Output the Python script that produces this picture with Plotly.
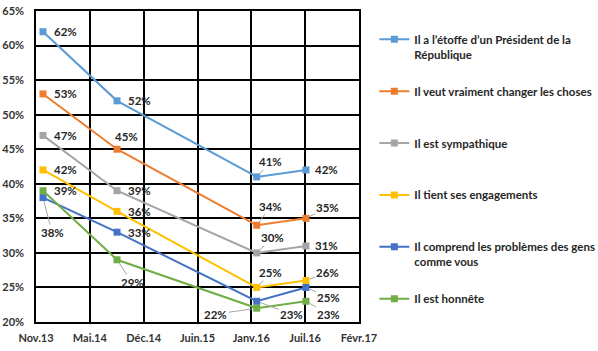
import plotly.graph_objects as go

# ---- data ----
dates = ["2013-11-27", "2014-08-29", "2016-01-30", "2016-07-31"]
series_names = [
    "Il a l\u2019étoffe d\u2019un Président de la<br>République",
    "Il veut vraiment changer les choses",
    "Il est sympathique",
    "Il tient ses engagements",
    "Il comprend les problèmes des gens<br>comme vous",
    "Il est honnête",
]
etoffe = [62, 52, 41, 42]
changer = [53, 45, 34, 35]
sympathique = [47, 39, 30, 31]
engagements = [42, 36, 25, 26]
comprend = [38, 33, 23, 25]
honnete = [39, 29, 22, 23]
series_values = [etoffe, changer, sympathique, engagements, comprend, honnete]

x_tick_vals = ["2013-11-01", "2014-05-20", "2014-12-06", "2015-06-24",
               "2016-01-10", "2016-07-28", "2017-02-13"]
x_tick_text = ["Nov.13", "Mai.14", "Déc.14", "Juin.15", "Janv.16", "Juil.16", "Févr.17"]
y_ticks = [20, 25, 30, 35, 40, 45, 50, 55, 60, 65]

# ---- styles ----
colors = ["#5B9BD5", "#ED7D31", "#A5A5A5", "#FFC000", "#4472C4", "#70AD47"]
FONT = "Lato"
# label offsets in pixels (ax, ay) and whether a leader line is drawn
label_offsets = [
    [(22, 0, False), (22, 0, False), (14, -15, True), (21, 0, False)],
    [(22, 0, False), (9, -13, False), (14, -19, True), (22, -11, True)],
    [(22, 0, False), (22, 0, False), (16, -15, True), (21, 0, False)],
    [(22, 0, False), (22, 0, False), (14, -15, True), (22, -8, True)],
    [(9, 35, True), (22, 0, False), (35, 13, True), (23, 10, True)],
    [(22, 0, False), (15, 23, True), (-41, 6, True), (23, 13, True)],
]

fig = go.Figure()
annotations = []
for i, (name, vals) in enumerate(zip(series_names, series_values)):
    legend_name = name if "<br>" in name else name + "<br>&nbsp;"
    fig.add_trace(go.Scatter(
        x=dates, y=vals, name=legend_name, mode="lines+markers",
        line=dict(color=colors[i], width=2),
        marker=dict(symbol="square", size=7, color=colors[i]),
        legendgroup=str(i),
    ))
    for j, (d, v) in enumerate(zip(dates, vals)):
        ax, ay, leader = label_offsets[i][j]
        annotations.append(dict(
            x=d, y=v, xref="x", yref="y", text=f"{v}%",
            showarrow=True, ax=ax, ay=ay, arrowhead=0, arrowwidth=1,
            arrowcolor="#A5A5A5" if leader else "rgba(0,0,0,0)",
            standoff=4, startstandoff=0,
            font=dict(family=FONT, size=11.5, color="#262626", weight="bold"),
        ))

fig.update_layout(
    width=598, height=351,
    margin=dict(l=36, r=239, t=11, b=29, autoexpand=False),
    paper_bgcolor="white", plot_bgcolor="white",
    annotations=annotations,
    showlegend=True,
    legend=dict(
        xref="container", yref="container", x=0.626, y=0.928,
        xanchor="left", yanchor="top", valign="top",
        font=dict(family=FONT, size=11.5, color="#262626", weight="bold"),
        tracegroupgap=19, itemwidth=30, maxheight=345,
        bgcolor="rgba(0,0,0,0)",
    ),
    xaxis=dict(
        type="date", range=[x_tick_vals[0], x_tick_vals[-1]],
        tickmode="array", tickvals=x_tick_vals, ticktext=x_tick_text,
        showgrid=True, gridcolor="black", gridwidth=1.5,
        showline=True, linecolor="black", linewidth=1.5, mirror=True,
        ticks="", zeroline=False, ticklabelstandoff=5, automargin=False,
        tickfont=dict(family=FONT, size=11, color="#333333", weight="bold"),
    ),
    yaxis=dict(
        range=[20, 65], tickmode="array", tickvals=y_ticks,
        ticktext=[f"{t}%" for t in y_ticks],
        showgrid=True, gridcolor="black", gridwidth=1.5,
        showline=True, linecolor="black", linewidth=1.5, mirror=True,
        ticks="", zeroline=False, ticklabelstandoff=8, automargin=False,
        tickfont=dict(family=FONT, size=11, color="#333333", weight="bold"),
    ),
)

fig.write_html("out.html")
